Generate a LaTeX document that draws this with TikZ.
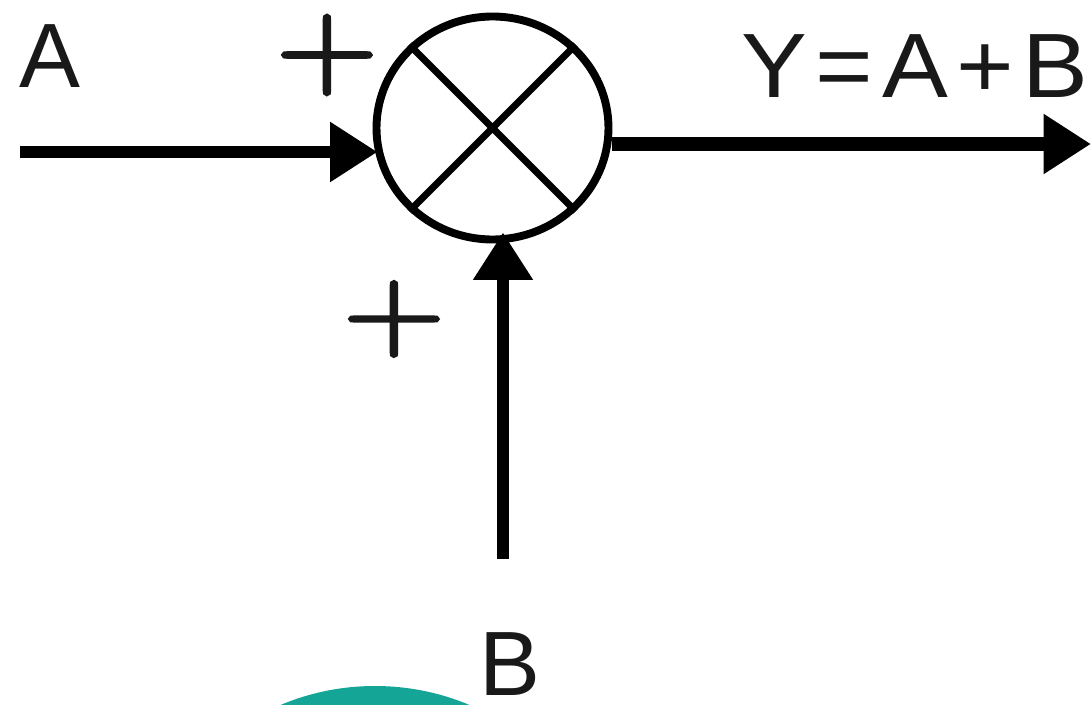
\documentclass[tikz,border=0pt]{standalone}
\usepackage{fontspec}
\setmainfont{Liberation Sans}
\newfontfamily\plusfont[FakeBold=2.5]{Latin Modern Roman}
\usetikzlibrary{arrows.meta,positioning,shapes.geometric}
\definecolor{tealblob}{RGB}{20,165,150}
\begin{document}
\begin{tikzpicture}[
    summer/.style={draw, ellipse, line width=4.5pt, minimum width=4.64cm, minimum height=4.46cm, inner sep=0pt},
    xline/.style={line width=4pt},
    arr/.style={-{Triangle[length=0.95cm, width=1.14cm]}, line width=7pt},
    lbl/.style={font=\fontsize{52}{54}\selectfont, inner sep=0pt, text=black!90},
    sgn/.style={font=\plusfont\fontsize{80}{80}\selectfont, inner sep=0pt, text=black!90}
]
\useasboundingbox (0,0) rectangle (21.82,14.08);
\begin{scope}
\clip (0,0) rectangle (21.82,14.08);
\fill[tealblob] (7.5,-4.52) circle (4.88cm);
\end{scope}
\node[summer] (sum) at (9.85,11.52) {};
\draw[xline] (sum.45) -- (sum.225);
\draw[xline] (sum.135) -- (sum.315);
\coordinate (inA) at (0.4,11.04);
\coordinate (outY) at (21.82,11.2);
\coordinate (inB) at (10.06,2.9);
\draw[arr, shorten >=-0.1cm] (inA) -- (sum.west |- inA);
\draw[arr, line width=8.5pt] (sum.east |- outY) -- (outY);
\draw[arr, line width=6.5pt, shorten >=-0.22cm] (inB) -- (inB |- sum.south);
\node[lbl] (a) at (1.0,12.96) {A};
\node[lbl, xscale=1.08] (y) at (18.3,12.76) {Y\kern4.5pt=\kern4.5pt A\kern4.5pt+\kern4.5pt B};
\node[lbl] (b) at (10.2,0.8) {B};
\node[sgn, yscale=0.9] (p1) at (6.54,12.98) {+};
\node[sgn, yscale=0.85] (p2) at (7.88,7.7) {+};
\end{tikzpicture}
\end{document}
